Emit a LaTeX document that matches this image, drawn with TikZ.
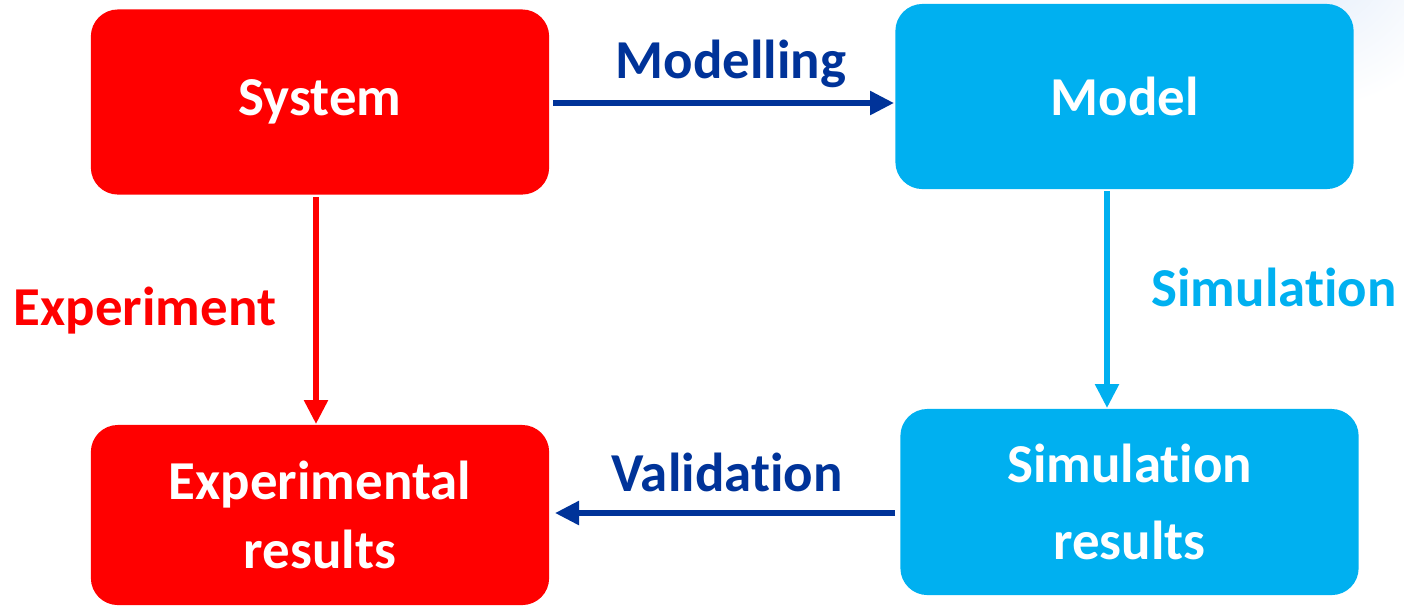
\documentclass[tikz,border=0pt]{standalone}
\usepackage{fontspec}
\setmainfont{Carlito}[Ligatures=NoCommon, RawFeature={-liga;-clig;-calt;-dlig}]
\usetikzlibrary{arrows.meta}
\definecolor{boxred}{HTML}{FF0000}
\definecolor{boxblue}{HTML}{00B0F0}
\definecolor{navy}{HTML}{003399}
\definecolor{haze}{HTML}{E2ECFA}
\tikzset{
  box/.style={rounded corners=0.27cm, minimum width=4.58cm, minimum height=1.85cm,
    text=white, font=\fontsize{15.6}{17.5}\selectfont\bfseries, align=center, inner sep=0pt},
  redbox/.style={box, fill=boxred},
  bluebox/.style={box, fill=boxblue},
  flow/.style={line width=0.055cm, -{Triangle[length=0.24cm, width=0.23cm]}},
  lbl/.style={font=\fontsize{15.6}{17.5}\selectfont\bfseries, inner sep=0pt}
}
\begin{document}
\begin{tikzpicture}[x=0.01cm, y=-0.01cm]
  \useasboundingbox (0,0) rectangle (1404,605);
  % soft backdrop in the upper right corner
  \shade[inner color=haze, outer color=white] (1310,-50) circle (160);
  \fill[white] (1300,110) rectangle (1404,605);

  \node[redbox]  (sys)  at (320,102) {\raisebox{-0.04cm}{System}};
  \node[bluebox] (mod)  at (1124.5,96.5) {Model};
  \node[redbox, minimum height=1.8cm]  (exp)  at (320,515) {Experimental\\[0.07cm]results};
  \node[bluebox, minimum height=1.86cm] (sim) at (1129.5,502) {Simulation\\[0.16cm]results};

  \coordinate (m0) at (553,103);
  \coordinate (m1) at (894,103);
  \draw[flow, navy] (m0) -- (m1);
  \node[lbl, text=navy] (lmod) at (731,64) {Modelling};

  \coordinate (e0) at (316,197);
  \coordinate (e1) at (316,424);
  \draw[flow, boxred] (e0) -- (e1);
  \node[lbl, text=boxred] (lexp) at (145,311) {Experiment};

  \coordinate (s0) at (1107,191);
  \coordinate (s1) at (1107,408);
  \draw[flow, boxblue] (s0) -- (s1);
  \node[lbl, text=boxblue] (lsim) at (1274,287) {Simulation};

  \coordinate (v0) at (895,513);
  \coordinate (v1) at (555,513);
  \draw[flow, navy] (v0) -- (v1);
  \node[lbl, text=navy] (lval) at (727,472) {Validation};
\end{tikzpicture}
\end{document}
